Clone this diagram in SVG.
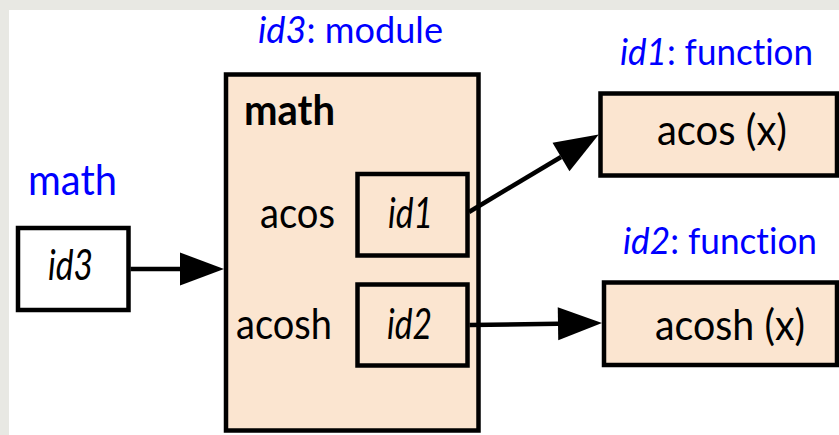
<svg xmlns="http://www.w3.org/2000/svg" width="839" height="435" viewBox="0 0 839 435">
<style>
.bx{stroke:#000;stroke-width:4.5;stroke-linejoin:miter}
.pe{fill:#fbe5d0}
.wh{fill:#fff}
.t{font-family:Lato,"Liberation Sans",sans-serif;fill:#000;font-variant-ligatures:none}
.bl{font-family:Lato,"Liberation Sans",sans-serif;fill:#0000ff;font-size:36px;font-variant-ligatures:none}
.k{font-size:42px}
.i{font-style:italic}
.b{font-weight:bold}
.ln{stroke:#000;stroke-width:4.5;fill:none}
</style>
<defs>
<marker id="ah" markerUnits="userSpaceOnUse" markerWidth="46" markerHeight="34" refX="0" refY="16.5" orient="auto" overflow="visible">
<path d="M0,0 L44,16.5 L0,33 z" fill="#000"/>
</marker>
</defs>
<rect x="0" y="0" width="839" height="435" fill="#e8e8e3"/>
<rect x="9" y="10" width="830" height="425" fill="#fff"/>

<g id="label-id3-module"><text class="bl" x="258" y="43" textLength="185" lengthAdjust="spacingAndGlyphs"><tspan class="i">id3</tspan>: module</text></g>
<g id="label-id1-function"><text class="bl" x="620" y="65" textLength="193" lengthAdjust="spacingAndGlyphs"><tspan class="i">id1</tspan>: function</text></g>
<g id="label-id2-function"><text class="bl" x="623" y="254" textLength="194" lengthAdjust="spacingAndGlyphs"><tspan class="i">id2</tspan>: function</text></g>
<g id="label-math"><text class="bl" x="28" y="195" style="font-size:42px" textLength="89" lengthAdjust="spacingAndGlyphs">math</text></g>

<g id="node-id3">
<rect class="bx wh" x="18" y="228" width="110.5" height="82"/>
<text class="t k i" x="48" y="280" textLength="45" lengthAdjust="spacingAndGlyphs">id3</text>
</g>

<g id="node-module">
<rect class="bx pe" x="226" y="74.5" width="252.5" height="356"/>
<text class="t k b" x="244" y="125" textLength="91" lengthAdjust="spacingAndGlyphs">math</text>
<text class="t k" x="260" y="228" textLength="75" lengthAdjust="spacingAndGlyphs">acos</text>
<text class="t k" x="236" y="339" textLength="96" lengthAdjust="spacingAndGlyphs">acosh</text>
</g>

<g id="node-slot-id1">
<rect class="bx pe" x="357.5" y="174" width="110" height="81.5"/>
<text class="t k i" x="388" y="228" textLength="45" lengthAdjust="spacingAndGlyphs">id1</text>
</g>

<g id="node-slot-id2">
<rect class="bx pe" x="357.5" y="284.5" width="110" height="81"/>
<text class="t k i" x="387" y="339" textLength="45" lengthAdjust="spacingAndGlyphs">id2</text>
</g>

<g id="node-acos">
<rect class="bx pe" x="600.5" y="93.5" width="236.5" height="82"/>
<text class="t k" x="657" y="145" textLength="130" lengthAdjust="spacingAndGlyphs">acos (x)</text>
</g>

<g id="node-acosh">
<rect class="bx pe" x="604" y="282.5" width="233" height="82.5"/>
<text class="t k" x="655" y="340" textLength="150" lengthAdjust="spacingAndGlyphs">acosh (x)</text>
</g>

<g id="connectors">
<line class="ln" x1="130.5" y1="269" x2="180" y2="269" marker-end="url(#ah)"/>
<line class="ln" x1="469" y1="212" x2="561" y2="157" marker-end="url(#ah)"/>
<line class="ln" x1="469.5" y1="325" x2="558" y2="323.7" marker-end="url(#ah)"/>
</g>
</svg>
